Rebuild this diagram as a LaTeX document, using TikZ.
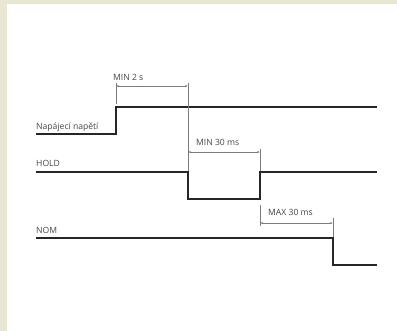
\documentclass[tikz,border=0pt]{standalone}
\usepackage{fontspec}
\setmainfont{Open Sans}
\usetikzlibrary{arrows.meta}
\definecolor{framebg}{RGB}{233,230,212}
\definecolor{dimgray}{RGB}{125,125,125}
\definecolor{txtgray}{RGB}{70,70,70}
\begin{document}
\begin{tikzpicture}[x=1pt,y=-1pt,
  sig/.style={line width=1.2pt, black!85, line join=miter},
  dimline/.style={line width=0.55pt, dimgray},
  dimarrow/.style={dimline, {Stealth[length=2.6pt,width=2.2pt]}-{Stealth[length=2.6pt,width=2.2pt]}},
  lbl/.style={font=\fontsize{8.6}{10}\selectfont, text=txtgray, inner sep=0pt, anchor=base west}]
\useasboundingbox (0,0) rectangle (397,331);
\fill[framebg] (0,0) rectangle (397,331);
\fill[white] (7,4) rectangle (397,331);
% time marks
\coordinate (t1) at (116,0);
\coordinate (t2) at (188,0);
\coordinate (t3) at (260,0);
\coordinate (t4) at (333,0);
% signals
\draw[sig] (36,134) -- (116,134) -- (116,107) -- (377,107);
\draw[sig] (36,172) -- (188,172) -- (188,199) -- (260,199) -- (260,172) -- (377,172);
\draw[sig] (36,238) -- (333,238) -- (333,265) -- (377,265);
% signal labels
\node[lbl] (pwr) at (36,130) {Napájecí napětí};
\node[lbl] (hold) at (36,167) {HOLD};
\node[lbl] (nom) at (36,234) {NOM};
% dimension ticks
\draw[dimline] (116,83) -- (116,104);
\draw[dimline] (188,83) -- (188,171);
\draw[dimline] (260,149) -- (260,171);
\draw[dimline] (260,205) -- (260,226);
\draw[dimline] (333,218) -- (333,237);
% dimension arrows
\draw[dimarrow] (116.3,86) -- (187.7,86);
\draw[dimarrow] (188.3,152) -- (259.7,152);
\draw[dimarrow] (260.3,223) -- (332.7,223);
% dimension labels
\node[lbl] (d1) at (113,81) {MIN 2 s};
\node[lbl] (d2) at (196,146) {MIN 30 ms};
\node[lbl] (d3) at (268,216) {MAX 30 ms};
\end{tikzpicture}
\end{document}
